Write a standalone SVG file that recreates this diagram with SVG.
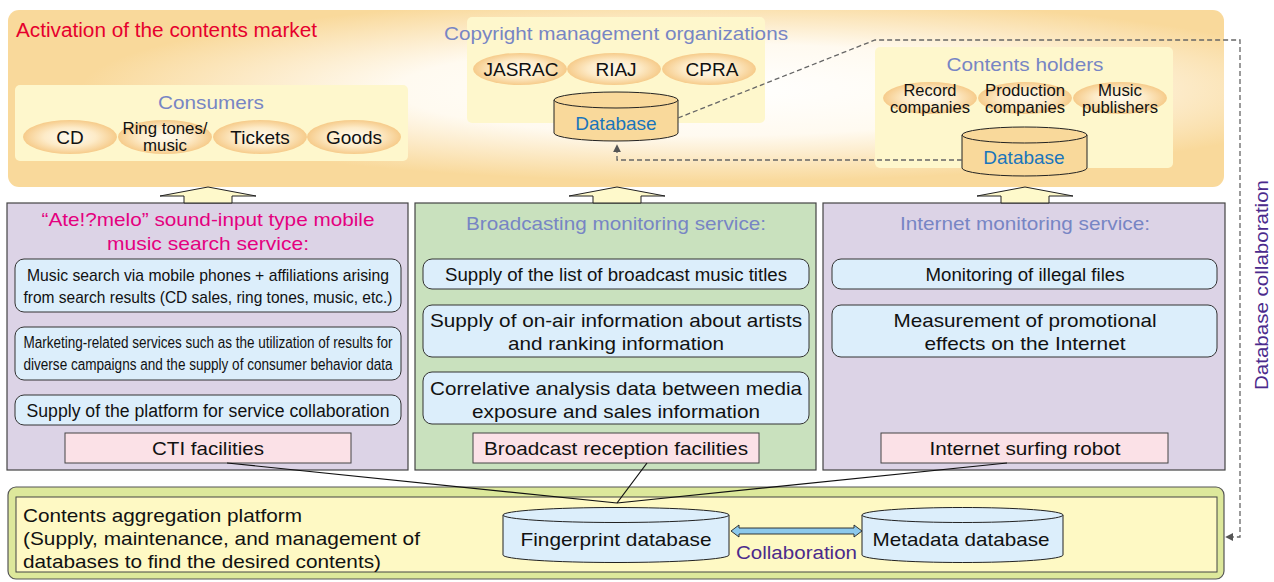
<svg xmlns="http://www.w3.org/2000/svg" width="1274" height="582" viewBox="0 0 1274 582">
<style>
text{font-family:"Liberation Sans",Arial,sans-serif;fill:#111}
.peri{fill:#7785C4}
.t19{font-size:19px}
.t18{font-size:18px}
.t17{font-size:17px}
.t16{font-size:16px}
.mid{text-anchor:middle}
.box{stroke:#444;stroke-width:1.2}
.inner{fill:#DCEEFB;stroke:#333;stroke-width:1}
.pink{fill:#FBE1E7;stroke:#444;stroke-width:1}
.ell{fill:url(#ellG)}
.cylO{fill:#F9D99B;stroke:#222;stroke-width:1}
.cylB{fill:#DCEEFB;stroke:#222;stroke-width:1}
.dash{fill:none;stroke:#666;stroke-width:1.3;stroke-dasharray:5 3}
.up{fill:#FEF9CB;stroke:#222;stroke-width:1}
.ln{stroke:#111;stroke-width:1.2;fill:none}
</style>
<defs>
<radialGradient id="topG" cx="0.58" cy="0.45" r="0.52">
<stop offset="0" stop-color="#FFFFFF"/>
<stop offset="0.5" stop-color="#FFFAF0"/>
<stop offset="1" stop-color="#F9D99B"/>
</radialGradient>
<radialGradient id="ellG" cx="0.5" cy="0.5" r="0.5">
<stop offset="0" stop-color="#FFFBF0"/>
<stop offset="0.55" stop-color="#FDEBC8"/>
<stop offset="1" stop-color="#F6CB8A"/>
</radialGradient>
<marker id="ah" viewBox="0 0 10 10" refX="9" refY="5" markerWidth="8" markerHeight="8" markerUnits="userSpaceOnUse" orient="auto">
<path d="M0,0 L10,5 L0,10 z" fill="#555"/>
</marker>
</defs>

<!-- top market area -->
<g id="market">
<rect x="8" y="10" width="1216" height="177" rx="11" fill="url(#topG)"/>
<text x="16" y="37" font-size="19.5" style="fill:#E6002D" textLength="301" lengthAdjust="spacingAndGlyphs">Activation of the contents market</text>
</g>

<g id="consumers">
<rect x="15" y="85" width="393" height="76" rx="5" fill="#FEF7CC"/>
<text x="211" y="109" class="t19 mid peri" textLength="106" lengthAdjust="spacingAndGlyphs">Consumers</text>
<ellipse cx="70" cy="137" rx="47" ry="17" class="ell"/>
<ellipse cx="165" cy="137" rx="47" ry="17" class="ell"/>
<ellipse cx="260" cy="137" rx="47" ry="17" class="ell"/>
<ellipse cx="354" cy="137" rx="47" ry="17" class="ell"/>
<text x="70" y="144" class="t19 mid">CD</text>
<text x="165" y="134" class="t17 mid" textLength="85" lengthAdjust="spacingAndGlyphs">Ring tones/</text>
<text x="165" y="151" class="t17 mid" textLength="44" lengthAdjust="spacingAndGlyphs">music</text>
<text x="260" y="144" class="t19 mid">Tickets</text>
<text x="354" y="144" class="t19 mid">Goods</text>
</g>

<g id="copyright">
<rect x="467" y="17" width="298" height="106" rx="5" fill="#FEF7CC"/>
<text x="616" y="40" class="t19 mid peri" textLength="344" lengthAdjust="spacingAndGlyphs">Copyright management organizations</text>
<ellipse cx="520" cy="69" rx="47" ry="16" class="ell"/>
<ellipse cx="614" cy="69" rx="47" ry="16" class="ell"/>
<ellipse cx="709" cy="69" rx="47" ry="16" class="ell"/>
<text x="521" y="76" class="t19 mid">JASRAC</text>
<text x="616" y="76" class="t19 mid">RIAJ</text>
<text x="712" y="76" class="t19 mid">CPRA</text>
</g>

<g id="db-copyright">
<path d="M554,100 V133 A62,8 0 0 0 678,133 V100" class="cylO"/>
<ellipse cx="616" cy="100" rx="62" ry="8" class="cylO"/>
<text x="616" y="130" class="t19 mid" style="fill:#1A75BB">Database</text>
</g>

<g id="holders">
<rect x="875" y="47" width="298" height="121" rx="5" fill="#FEF7CC"/>
<text x="1025" y="71" class="t19 mid peri" textLength="157" lengthAdjust="spacingAndGlyphs">Contents holders</text>
<ellipse cx="930" cy="98" rx="47" ry="16" class="ell"/>
<ellipse cx="1025" cy="98" rx="47" ry="16" class="ell"/>
<ellipse cx="1120" cy="98" rx="47" ry="16" class="ell"/>
<text x="930" y="96" class="t16 mid" textLength="53" lengthAdjust="spacingAndGlyphs">Record</text>
<text x="930" y="113" class="t16 mid" textLength="80" lengthAdjust="spacingAndGlyphs">companies</text>
<text x="1025" y="96" class="t16 mid" textLength="80" lengthAdjust="spacingAndGlyphs">Production</text>
<text x="1025" y="113" class="t16 mid" textLength="80" lengthAdjust="spacingAndGlyphs">companies</text>
<text x="1120" y="96" class="t16 mid" textLength="44" lengthAdjust="spacingAndGlyphs">Music</text>
<text x="1120" y="113" class="t16 mid" textLength="76" lengthAdjust="spacingAndGlyphs">publishers</text>
</g>

<g id="db-holders">
<path d="M962,135 V168 A62.5,8 0 0 0 1087,168 V135" class="cylO"/>
<ellipse cx="1024.5" cy="135" rx="62.5" ry="8" class="cylO"/>
<text x="1024" y="164" class="t19 mid" style="fill:#1A75BB">Database</text>
</g>

<!-- service boxes -->
<g id="ate-melo">
<rect x="7" y="203" width="401" height="267" fill="#DCD3E6" class="box"/>
<text x="208" y="226" class="t19 mid" style="fill:#E4007F" textLength="333" lengthAdjust="spacingAndGlyphs">“Ate!?melo” sound-input type mobile</text>
<text x="208" y="250" class="t19 mid" style="fill:#E4007F" textLength="202" lengthAdjust="spacingAndGlyphs">music search service:</text>
<rect x="15" y="259" width="386" height="53" rx="9" class="inner"/>
<text x="208" y="281" class="t17 mid" textLength="362" lengthAdjust="spacingAndGlyphs">Music search via mobile phones + affiliations  arising</text>
<text x="208" y="303" class="t17 mid" textLength="369" lengthAdjust="spacingAndGlyphs">from search results (CD sales, ring tones, music, etc.)</text>
<rect x="15" y="327" width="386" height="53" rx="9" class="inner"/>
<text x="208" y="348" class="t16 mid" textLength="369" lengthAdjust="spacingAndGlyphs">Marketing-related services such as the utilization of results for</text>
<text x="208" y="370" class="t16 mid" textLength="369" lengthAdjust="spacingAndGlyphs">diverse campaigns and the supply of consumer behavior data</text>
<rect x="15" y="395" width="386" height="30" rx="9" class="inner"/>
<text x="208" y="417" class="t18 mid" textLength="363" lengthAdjust="spacingAndGlyphs">Supply of the platform for service collaboration</text>
<rect x="65" y="433" width="286" height="30" class="pink"/>
<text x="208" y="455" class="t19 mid" textLength="112" lengthAdjust="spacingAndGlyphs">CTI facilities</text>
</g>

<g id="broadcast">
<rect x="415" y="203" width="401" height="267" fill="#C9E1BE" class="box"/>
<text x="616" y="230" class="t19 mid peri" textLength="300" lengthAdjust="spacingAndGlyphs">Broadcasting monitoring service:</text>
<rect x="423" y="259" width="386" height="30" rx="9" class="inner"/>
<text x="616" y="281" class="t18 mid" textLength="342" lengthAdjust="spacingAndGlyphs">Supply of the list of broadcast music titles</text>
<rect x="423" y="305" width="386" height="52" rx="9" class="inner"/>
<text x="616" y="327" class="t19 mid" textLength="372" lengthAdjust="spacingAndGlyphs">Supply of on-air information about artists</text>
<text x="616" y="350" class="t19 mid" textLength="216" lengthAdjust="spacingAndGlyphs">and ranking information</text>
<rect x="423" y="372" width="386" height="52" rx="9" class="inner"/>
<text x="616" y="395" class="t19 mid" textLength="372" lengthAdjust="spacingAndGlyphs">Correlative analysis data between media</text>
<text x="616" y="418" class="t19 mid" textLength="288" lengthAdjust="spacingAndGlyphs">exposure and sales information</text>
<rect x="473" y="433" width="286" height="30" class="pink"/>
<text x="616" y="455" class="t19 mid" textLength="264" lengthAdjust="spacingAndGlyphs">Broadcast reception facilities</text>
</g>

<g id="internet">
<rect x="823" y="203" width="402" height="267" fill="#DCD3E6" class="box"/>
<text x="1025" y="230" class="t19 mid peri" textLength="250" lengthAdjust="spacingAndGlyphs">Internet monitoring service:</text>
<rect x="832" y="259" width="385" height="30" rx="9" class="inner"/>
<text x="1025" y="281" class="t18 mid" textLength="199" lengthAdjust="spacingAndGlyphs">Monitoring of illegal files</text>
<rect x="832" y="305" width="385" height="52" rx="9" class="inner"/>
<text x="1025" y="327" class="t19 mid" textLength="263" lengthAdjust="spacingAndGlyphs">Measurement of promotional</text>
<text x="1025" y="350" class="t19 mid" textLength="201" lengthAdjust="spacingAndGlyphs">effects on the Internet</text>
<rect x="881" y="433" width="287" height="30" class="pink"/>
<text x="1025" y="455" class="t19 mid" textLength="191" lengthAdjust="spacingAndGlyphs">Internet surfing robot</text>
</g>

<!-- bottom platform -->
<g id="platform">
<rect x="8" y="487" width="1216" height="92" rx="8" fill="#DDE89B" stroke="#555" stroke-width="1.2"/>
<rect x="16" y="497" width="1201" height="75" fill="#FEF9C4" stroke="#444" stroke-width="1"/>
<text x="23" y="522" class="t19" textLength="279" lengthAdjust="spacingAndGlyphs">Contents aggregation platform</text>
<text x="23" y="545" class="t19" textLength="397" lengthAdjust="spacingAndGlyphs">(Supply, maintenance, and management of</text>
<text x="23" y="568" class="t19" textLength="358" lengthAdjust="spacingAndGlyphs">databases to find the desired contents)</text>
</g>

<g id="fingerprint-db">
<path d="M503,515 V555 A113,7.5 0 0 0 729,555 V515" class="cylB"/>
<ellipse cx="616" cy="515" rx="113" ry="7.5" class="cylB"/>
<text x="616" y="546" class="t19 mid" textLength="191" lengthAdjust="spacingAndGlyphs">Fingerprint database</text>
</g>

<g id="metadata-db">
<path d="M862,515 V555 A100.5,7.5 0 0 0 1063,555 V515" class="cylB"/>
<ellipse cx="962.5" cy="515" rx="100.5" ry="7.5" class="cylB"/>
<text x="961" y="546" class="t19 mid" textLength="177" lengthAdjust="spacingAndGlyphs">Metadata database</text>
</g>

<g id="collab-label">
<text x="736" y="559" class="t18" style="fill:#4B2A8C" textLength="121" lengthAdjust="spacingAndGlyphs">Collaboration</text>
</g>

<g id="db-collab-label">
<text transform="translate(1268,285) rotate(-90)" class="t18 mid" style="fill:#4B2A8C" textLength="210" lengthAdjust="spacingAndGlyphs">Database collaboration</text>
</g>

<!-- connectors -->
<g id="connectors">
<polygon points="208,187 256,196 232,196 232,203 184,203 184,196 160,196" class="up"/>
<polygon points="617,187 665,196 641,196 641,203 593,203 593,196 569,196" class="up"/>
<polygon points="1025,187 1073,196 1049,196 1049,203 1001,203 1001,196 977,196" class="up"/>
<path d="M227,463 L617,503" class="ln"/>
<path d="M647,463 L617,503" class="ln"/>
<path d="M1007,463 L617,503" class="ln"/>
<polygon points="731,531 739,525 739,528 854,528 854,525 862,531 854,537 854,534 739,534 739,537" fill="#8CC9EC" stroke="#222" stroke-width="0.9"/>
<path d="M678,118 L875,40 H1240 V537 H1226" class="dash" marker-end="url(#ah)"/>
<path d="M962,160 H617 V145" class="dash" marker-end="url(#ah)"/>
</g>
</svg>
